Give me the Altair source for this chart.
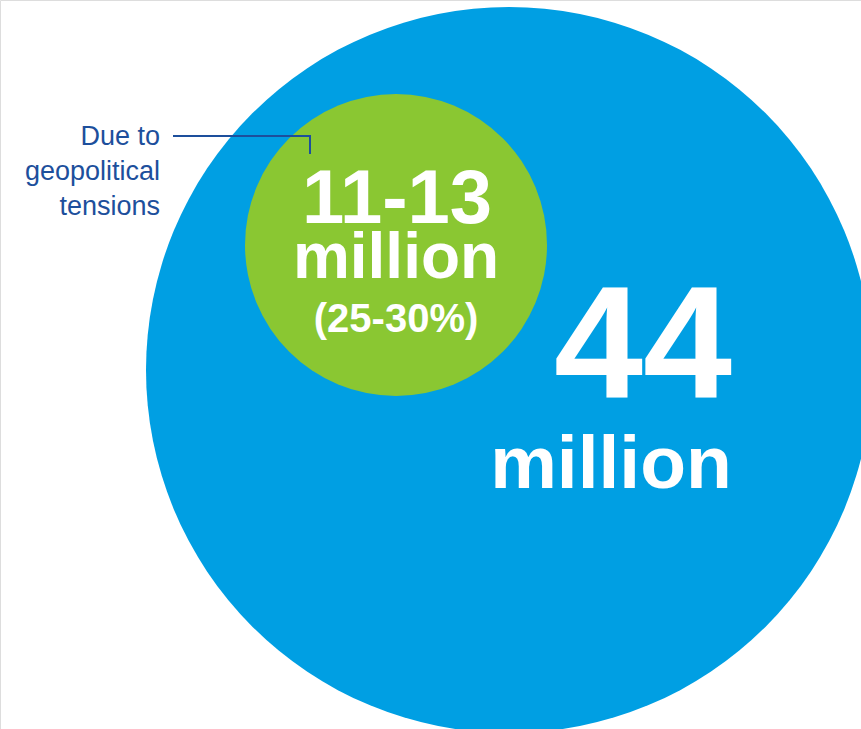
import altair as alt
import pandas as pd

# --- data ---
circle_names = ["Total", "Due to geopolitical tensions"]
circle_values = ["44 million", "11-13 million (25-30%)"]
circle_colors = ["#009FE3", "#8AC732"]

big_number = "44"
big_unit = "million"
small_number = "11-13"
small_unit = "million"
small_share = "(25-30%)"
annotation_lines = ["Due to", "geopolitical", "tensions"]

# --- layout (pixel space of an 861x729 canvas) ---
W, H = 861, 729
circle_cx = [509, 396]
circle_cy = [370, 245]
circle_r = [363, 151]

circles = pd.DataFrame({
    "name": circle_names,
    "value": circle_values,
    "cx": circle_cx,
    "cy": circle_cy,
    # Vega symbol size is the area of the bounding square: (2r)^2
    "area": [(2 * r) ** 2 for r in circle_r],
    "color": circle_colors,
})

xs = alt.Scale(domain=[0, W], range=[0, W])
ys = alt.Scale(domain=[0, H], range=[0, H])

def X(f):
    return alt.X(f, scale=xs, axis=None)

def Y(f):
    return alt.Y(f, scale=ys, axis=None)

circle_layer = alt.Chart(circles).mark_circle(opacity=1, strokeWidth=0, clip=True).encode(
    x=X("cx:Q"), y=Y("cy:Q"),
    size=alt.Size("area:Q", scale=None, legend=None),
    color=alt.Color("color:N", scale=None, legend=None),
    order=alt.Order("area:Q", sort="descending"),
)

white_texts = pd.DataFrame({
    "text": [small_number, small_unit, small_share, big_number, big_unit],
    "x": [397, 396, 396, 643, 611],
    "y": [223, 278, 332, 397, 488],
    "fs": [76, 64, 40, 160, 75],
})

def text_layer(row):
    d = pd.DataFrame([row])
    return alt.Chart(d).mark_text(
        font="Liberation Sans", fontWeight="bold", fontSize=row["fs"],
        color="white", align="center", baseline="alphabetic",
    ).encode(x=X("x:Q"), y=Y("y:Q"), text="text:N")

text_layers = [text_layer(r) for r in white_texts.to_dict("records")]

ann = pd.DataFrame({
    "text": annotation_lines,
    "x": [160, 160, 160],
    "y": [145, 180, 215],
})
ann_layer = alt.Chart(ann).mark_text(
    font="Liberation Sans", fontSize=27, color="#1D4F9C",
    align="right", baseline="alphabetic",
).encode(x=X("x:Q"), y=Y("y:Q"), text="text:N")

leader = pd.DataFrame({"x": [173, 310, 310], "y": [136, 136, 154], "o": [0, 1, 2]})
leader_layer = alt.Chart(leader).mark_line(color="#1D4F9C", strokeWidth=2).encode(
    x=X("x:Q"), y=Y("y:Q"), order="o:Q"
)

chart = alt.layer(circle_layer, *text_layers, ann_layer, leader_layer).properties(
    width=W, height=H,
    autosize=alt.AutoSizeParams(type="none"),
    padding=0,
).configure_view(stroke=None).configure(background="white")

chart.save("out.html", embed_options={"renderer": "svg", "actions": False})
